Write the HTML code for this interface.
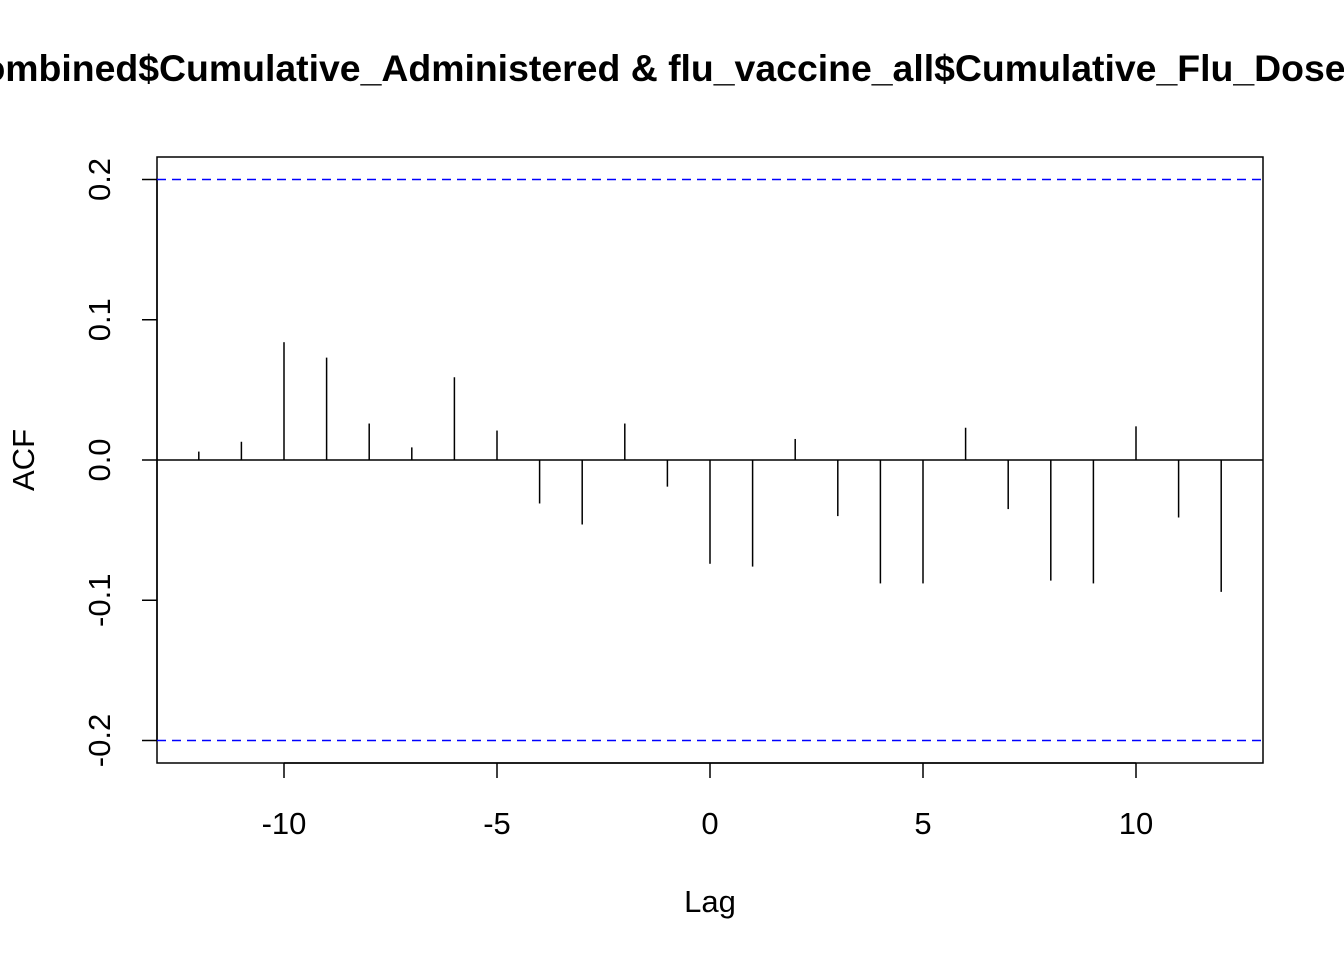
<!DOCTYPE html>
<html><head><meta charset="utf-8"><style>
body{margin:0;background:#fff}
svg{display:block;font-family:"Liberation Sans",Arial,sans-serif}
</style></head><body>
<svg width="1344" height="960" xmlns="http://www.w3.org/2000/svg">
<text x="664" y="81" text-anchor="middle" font-size="37.4" font-weight="bold">combined$Cumulative_Administered &amp; flu_vaccine_all$Cumulative_Flu_Doses</text>
<rect x="157" y="157" width="1106" height="606" fill="none" stroke="#000" stroke-width="1.5"/>
<g id="xaxis"></g>
<g id="yaxis"></g>
<g id="bars"></g>
<text x="710" y="912" text-anchor="middle" font-size="31">Lag</text>
<text transform="translate(34,460) rotate(-90)" text-anchor="middle" font-size="31">ACF</text>
</svg>
<script>
const lags=[-12,-11,-10,-9,-8,-7,-6,-5,-4,-3,-2,-1,0,1,2,3,4,5,6,7,8,9,10,11,12];
const acf=[0.006,0.013,0.084,0.073,0.026,0.009,0.059,0.021,-0.031,-0.046,0.026,-0.019,-0.074,-0.076,0.015,-0.040,-0.088,-0.088,0.023,-0.035,-0.086,-0.088,0.024,-0.041,-0.094];
const xTicks=[-10,-5,0,5,10];
const yTicks=[-0.2,-0.1,0.0,0.1,0.2];
const yTickLabels=["-0.2","-0.1","0.0","0.1","0.2"];
const ciBound=[0.2,-0.2];
const NS="http://www.w3.org/2000/svg";
const X=v=>710+v*42.6;
const Y=v=>460-v*1402.5;
function mk(tag,attrs,parent){const e=document.createElementNS(NS,tag);for(const k in attrs)e.setAttribute(k,attrs[k]);parent.appendChild(e);return e;}
const xa=document.getElementById('xaxis'),ya=document.getElementById('yaxis'),bars=document.getElementById('bars');
mk('line',{x1:X(-10),x2:X(10),y1:763,y2:763,stroke:'#000','stroke-width':1.5},xa);
xTicks.forEach(t=>{
 const l=mk('line',{x1:X(t),x2:X(t),y1:763,y2:778,stroke:'#000','stroke-width':1.5},xa);
 
 
 const tx=mk('text',{x:X(t),y:834,'text-anchor':'middle','font-size':31},xa);tx.textContent=t;
 
 
});
mk('line',{x1:157,x2:157,y1:Y(-0.2),y2:Y(0.2),stroke:'#000','stroke-width':1.5},ya);
yTicks.forEach((t,i)=>{
 const l=mk('line',{x1:142,x2:157,y1:Y(t),y2:Y(t),stroke:'#000','stroke-width':1.5},ya);
 
 
 const tx=mk('text',{transform:`translate(110,${Y(t)}) rotate(-90)`,'text-anchor':'middle','font-size':31},ya);tx.textContent=yTickLabels[i];
 
 
});
const z=mk('line',{x1:157,x2:1263,y1:Y(0),y2:Y(0),stroke:'#000','stroke-width':1.5},bars);


ciBound.forEach(c=>{
 const l=mk('line',{x1:157,x2:1263,y1:Y(c),y2:Y(c),stroke:'#0000ff','stroke-width':1.5,'stroke-dasharray':'9,6'},bars);
 
 
});
lags.forEach((g,i)=>{
 const l=mk('line',{x1:X(g),x2:X(g),y1:Y(0),y2:Y(acf[i]),stroke:'#000','stroke-width':1.5},bars);
 
 
});
</script>
</body></html>
